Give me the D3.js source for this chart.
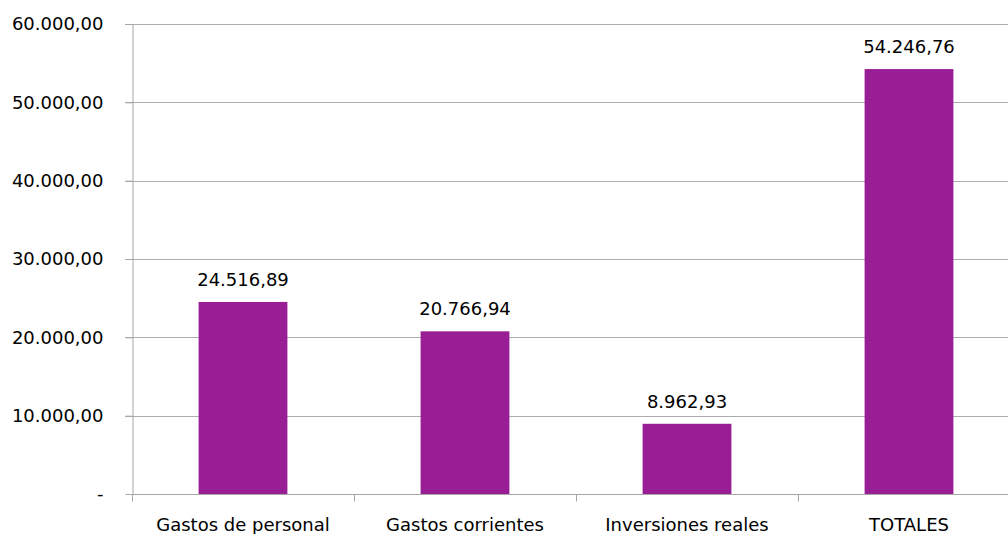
<!DOCTYPE html>
<html>
<head>
<meta charset="utf-8">
<script src="https://cdn.jsdelivr.net/npm/d3@7"></script>
<style>
  body { margin: 0; background: #fff; }
  text { font-family: "DejaVu Sans", Verdana, sans-serif; fill: #000; }
</style>
</head>
<body>
<svg width="1008" height="534"></svg>
<script>
// chart data
var categories = ["Gastos de personal", "Gastos corrientes", "Inversiones reales", "TOTALES"];
var values = [24516.89, 20766.94, 8962.93, 54246.76];
var yTicks = [0, 10000, 20000, 30000, 40000, 50000, 60000];

var width = 1008, height = 534;
var svg = d3.select('svg');

// plot area runs a bit past the right edge, like the original
var plotLeft = 132, plotRight = 1020, plotTop = 24, plotBottom = 494;
var fontSize = '18px';

var x = d3.scaleBand()
  .domain(categories)
  .range([plotLeft, plotRight])
  .paddingInner(0.6)
  .paddingOuter(0.3);

var y = d3.scaleLinear()
  .domain([0, 60000])
  .range([plotBottom, plotTop]);

// spanish style number format: 54.246,76
var es = d3.formatLocale({decimal: ",", thousands: ".", grouping: [3], currency: ["", "€"]});
var fmt = es.format(",.2f");

// gridlines
svg.append('g')
  .selectAll('line')
  .data(yTicks.filter(function (d) { return d > 0; }))
  .enter()
  .append('line')
  .attr('x1', plotLeft - 7)
  .attr('x2', width)
  .attr('y1', function (d) { return Math.round(y(d)) + 0.5; })
  .attr('y2', function (d) { return Math.round(y(d)) + 0.5; })
  .attr('stroke', '#adadad')
  .attr('stroke-width', 1);

// bars
svg.append('g')
  .selectAll('rect')
  .data(values)
  .enter()
  .append('rect')
  .attr('x', function (d, i) { return x(categories[i]); })
  .attr('y', function (d) { return y(d); })
  .attr('width', x.bandwidth())
  .attr('height', function (d) { return plotBottom - y(d); })
  .attr('fill', '#991e96');

// value labels
svg.append('g')
  .selectAll('text')
  .data(values)
  .enter()
  .append('text')
  .attr('x', function (d, i) { return x(categories[i]) + x.bandwidth() / 2; })
  .attr('y', function (d) { return y(d) - 16; })
  .attr('text-anchor', 'middle')
  .style('font-size', fontSize)
  .text(function (d) { return fmt(d); });

// y axis
var yAxis = d3.axisLeft(y)
  .tickValues(yTicks)
  .tickSize(7)
  .tickPadding(22)
  .tickFormat(function (d) { return d === 0 ? "-" : fmt(d); });

var gy = svg.append('g')
  .attr('transform', 'translate(' + (plotLeft + 0.5) + ',0)')
  .call(yAxis);
gy.select('.domain').attr('stroke', '#a6a6a6');
gy.selectAll('.tick line').attr('stroke', '#a6a6a6');
gy.selectAll('.tick text')
  .style('font-size', fontSize)
  .style('font-family', '"DejaVu Sans", Verdana, sans-serif')
  .attr('fill', '#000');

// x axis: ticks sit on category boundaries
var gx = svg.append('g')
  .attr('transform', 'translate(0,' + (plotBottom + 0.5) + ')');
gx.append('line')
  .attr('x1', plotLeft)
  .attr('x2', width)
  .attr('stroke', '#a6a6a6');
gx.selectAll('line.bound')
  .data(categories)
  .enter()
  .append('line')
  .attr('class', 'bound')
  .attr('x1', function (d) { return Math.round(x(d) - x.step() * 0.3) + 0.5; })
  .attr('x2', function (d) { return Math.round(x(d) - x.step() * 0.3) + 0.5; })
  .attr('y1', 0)
  .attr('y2', 7)
  .attr('stroke', '#a6a6a6');
gx.selectAll('text')
  .data(categories)
  .enter()
  .append('text')
  .attr('x', function (d) { return x(d) + x.bandwidth() / 2; })
  .attr('y', 36)
  .attr('text-anchor', 'middle')
  .style('font-size', fontSize)
  .text(function (d) { return d; });
</script>
</body>
</html>
